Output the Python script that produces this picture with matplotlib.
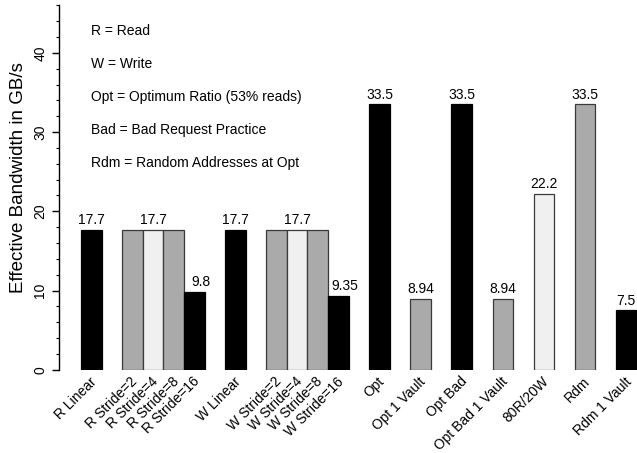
import numpy as np
import matplotlib
matplotlib.use("Agg")
import matplotlib.pyplot as plt

plt.rcParams["font.family"] = ["Liberation Sans", "DejaVu Sans"]

BLACK = "#000000"
GRAY = "#aaaaaa"
LIGHT = "#f0f0f0"

labels = [
    "R Linear",
    "R Stride=2", "R Stride=4", "R Stride=8", "R Stride=16",
    "W Linear",
    "W Stride=2", "W Stride=4", "W Stride=8", "W Stride=16",
    "Opt", "Opt 1 Vault", "Opt Bad", "Opt Bad 1 Vault",
    "80R/20W", "Rdm", "Rdm 1 Vault",
]
values = [
    17.7,
    17.7, 17.7, 17.7, 9.8,
    17.7,
    17.7, 17.7, 17.7, 9.35,
    33.5, 8.94, 33.5, 8.94,
    22.2, 33.5, 7.5,
]
fills = [
    BLACK,
    GRAY, LIGHT, GRAY, BLACK,
    BLACK,
    GRAY, LIGHT, GRAY, BLACK,
    BLACK, GRAY, BLACK, GRAY,
    LIGHT, GRAY, BLACK,
]
# bars inside a group touch, one empty slot between groups
groups = [1, 4, 1, 4, 1, 1, 1, 1, 1, 1, 1]
# value labels: how many adjacent bars share one label
label_spans = [1, 3, 1, 1, 3, 1, 1, 1, 1, 1, 1, 1, 1]
label_dx = [0, 0, 0.3, 0, 0, 0.3, 0, 0, 0, 0, 0, 0, 0]

legend_lines = [
    "R = Read",
    "W = Write",
    "Opt = Optimum Ratio (53% reads)",
    "Bad = Bad Request Practice",
    "Rdm = Random Addresses at Opt",
]

# slot positions
pos = []
x = 0
for g in groups:
    for k in range(g):
        pos.append(x)
        x += 1
    x += 1
pos = np.array(pos, dtype=float)

fig = plt.figure(figsize=(6.37, 4.53), dpi=100)
ax = fig.add_axes([58.5 / 637, (453 - 369.7) / 453, 1 - 58.5 / 637, 369.7 / 453])

for p, v, c in zip(pos, values, fills):
    edge = "#000000" if c == BLACK else "#3a3a3a"
    ax.bar(p, v, width=1.0, color=c, edgecolor=edge, linewidth=0.9, zorder=2)

i = 0
for n, dx in zip(label_spans, label_dx):
    centre = pos[i:i + n].mean() + dx
    top = max(values[i:i + n])
    ax.text(centre, top + 0.35, f"{top:g}", ha="center", va="bottom",
            fontsize=10, clip_on=False)
    i += n

for p, lab in zip(pos, labels):
    ax.text(p - 0.1, -0.6, lab, rotation=45, ha="right", va="top",
            rotation_mode="anchor", fontsize=10, clip_on=False)

for k, line in enumerate(legend_lines):
    ax.text(0.0, 42.8 - 4.18 * k, line, ha="left", va="center", fontsize=10)

ax.set_xlim(-1.6, 26.52)
ax.set_ylim(0, 46.68)

for side in ["top", "right", "bottom"]:
    ax.spines[side].set_visible(False)
ax.spines["left"].set_bounds(0, 46)
ax.spines["left"].set_linewidth(1.0)
ax.set_xticks([])
ax.set_yticks([0, 10, 20, 30, 40])
ax.set_yticks(np.arange(0, 47, 2), minor=True)
ax.tick_params(axis="y", which="major", length=5, width=1.0, labelsize=10, pad=3)
ax.tick_params(axis="y", which="minor", length=2.5, width=0.8)
for t in ax.get_yticklabels():
    t.set_rotation(90)
    t.set_va("center")
ax.set_ylabel("Effective Bandwidth in GB/s", fontsize=13.5)
ax.yaxis.set_label_coords(-31 / 578.5, (369.7 - 178) / 369.7)

fig.savefig("out.png", dpi=100)
